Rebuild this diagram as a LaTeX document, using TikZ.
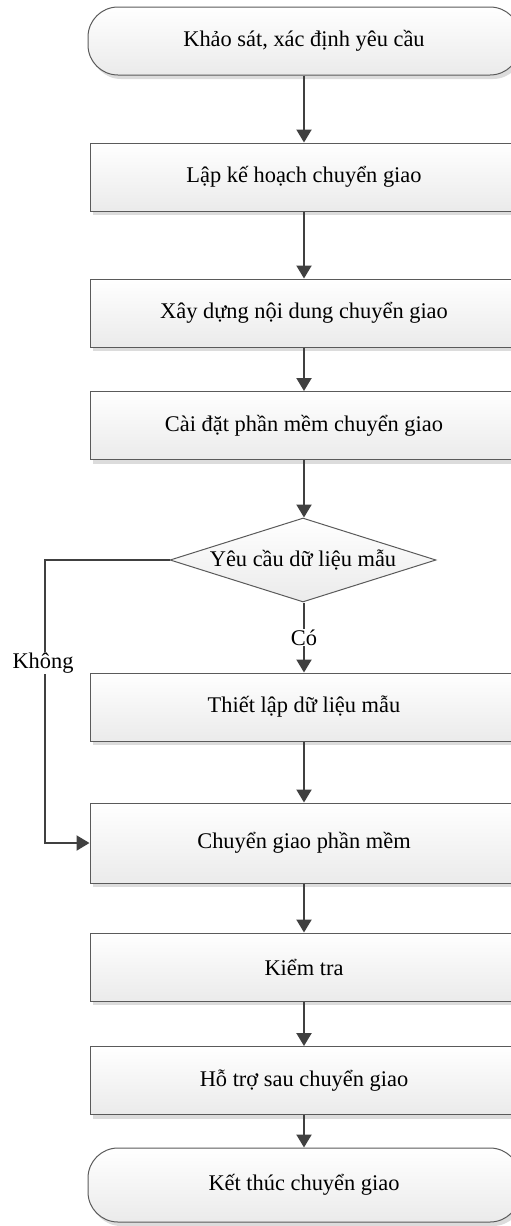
\documentclass[tikz,border=0pt]{standalone}
\usepackage{fontspec}
\setmainfont{Liberation Serif}
\usetikzlibrary{arrows.meta,shapes.geometric,shadows}
\definecolor{edgegray}{HTML}{5A5A5A}
\definecolor{linegray}{HTML}{404040}
\definecolor{shadowgray}{HTML}{DCDCDC}
\tikzset{
  every node/.style={font=\fontsize{22.4}{26}\selectfont},
  boxshadow/.style={general shadow={fill=shadowgray, shadow xshift=3pt, shadow yshift=-4pt}},
  procbox/.style={rectangle, draw=edgegray, line width=1pt, top color=white, bottom color=black!8,
    minimum width=428pt, minimum height=68pt, inner sep=0pt, boxshadow},
  termbox/.style={rectangle, rounded corners=30pt, draw=edgegray, line width=1pt, top color=white, bottom color=black!8,
    minimum width=432pt, minimum height=68pt, inner sep=0pt, boxshadow},
  decbox/.style={diamond, draw=edgegray, line width=1pt, top color=white, bottom color=black!8,
    minimum width=266pt, minimum height=84pt, inner sep=0pt, aspect=3.17},
  flow/.style={draw=linegray, line width=2.2pt, -{Triangle[length=13pt,width=15pt]}},
  lbl/.style={fill=white, inner sep=1pt}
}
\begin{document}
\begin{tikzpicture}[x=1pt,y=-1pt]
\useasboundingbox (0,0) rectangle (511,1226);
\clip (0,0) rectangle (511,1226);
\node[termbox] (t1) at (304,41) {Khảo sát, xác định yêu cầu};
\node[procbox] (b2) at (304,177) {Lập kế hoạch chuyển giao};
\node[procbox] (b3) at (304,313) {Xây dựng nội dung chuyển giao};
\node[procbox] (b4) at (304,425.5) {Cài đặt phần mềm chuyển giao};
\node[decbox] (d) at (303,560) {Yêu cầu dữ liệu mẫu};
\node[procbox] (b5) at (304,707) {Thiết lập dữ liệu mẫu};
\node[procbox, minimum height=80pt] (b6) at (304,843) {Chuyển giao phần mềm};
\node[procbox] (b7) at (304,967) {Kiểm tra};
\node[procbox] (b8) at (304,1080.5) {Hỗ trợ sau chuyển giao};
\node[termbox, minimum height=74pt] (t2) at (304,1185) {Kết thúc chuyển giao};
\coordinate (kc) at (45,560);
\coordinate (kd) at (45,843);
\draw[flow] (t1.south -| 304,0) -- (b2.north -| 304,0);
\draw[flow] (b2.south -| 304,0) -- (b3.north -| 304,0);
\draw[flow] (b3.south -| 304,0) -- (b4.north -| 304,0);
\draw[flow] (b4.south -| 304,0) -- (d.north -| 304,0);
\draw[flow] (d.south -| 304,0) -- node[lbl, pos=0.5] (co) {Có} (b5.north -| 304,0);
\draw[flow] (b5.south -| 304,0) -- (b6.north -| 304,0);
\draw[flow] (b6.south -| 304,0) -- (b7.north -| 304,0);
\draw[flow] (b7.south -| 304,0) -- (b8.north -| 304,0);
\draw[flow] (b8.south -| 304,0) -- (t2.north -| 304,0);
\draw[flow] (d.west) -- (kc) -- (kd) -- (b6.west);
\node[lbl] (khong) at (43,663) {Không};
\end{tikzpicture}
\end{document}
